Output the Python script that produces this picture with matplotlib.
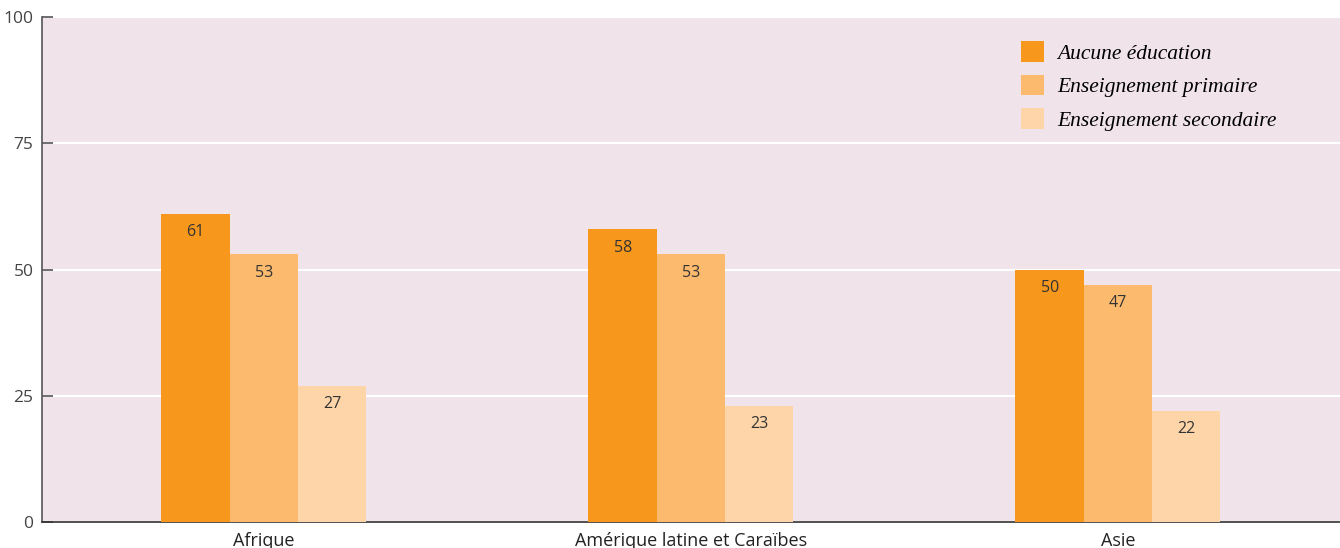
import matplotlib
matplotlib.use("Agg")
import matplotlib.pyplot as plt
import numpy as np

regions = ["Afrique", "Amérique latine et Caraïbes", "Asie"]
series = ["Aucune éducation", "Enseignement primaire", "Enseignement secondaire"]
aucune = [61, 58, 50]
primaire = [53, 53, 47]
secondaire = [27, 23, 22]
colors = ["#F7981D", "#FBBA6E", "#FDD5A8"]

fig = plt.figure(figsize=(13.4, 5.48), dpi=100)
ax = fig.add_axes([0.0313, 0.0474, 0.9687, 0.9216])
ax.set_facecolor("#F0E4EA")

x = np.arange(len(regions))
w = 0.16
for i, (vals, c, name) in enumerate(zip([aucune, primaire, secondaire], colors, series)):
    bars = ax.bar(x + (i - 1) * w, vals, w, color=c, label=name, zorder=3)
    for b, v in zip(bars, vals):
        ax.annotate(str(v), (b.get_x() + b.get_width() / 2, v), xytext=(0, -7.5),
                    textcoords="offset points", ha="center", va="top",
                    fontsize=11.5, color="#333333", family="Open Sans", zorder=4)

ax.set_xlim(-0.52, 2.52)
ax.set_ylim(0, 100)
ax.set_yticks([0, 25, 50, 75, 100])
ax.grid(axis="y", color="white", linewidth=1.5, zorder=1)
ax.set_xticks(x)
ax.set_xticklabels(regions, fontsize=13, family="Open Sans", color="#222222")
ax.tick_params(axis="x", length=0, pad=7)
ax.tick_params(axis="y", direction="in", length=8, width=1.2, color="#555555",
               labelsize=12.5, labelcolor="#444444", pad=6)
for lab in ax.get_yticklabels():
    lab.set_family("Open Sans")

for s in ["top", "right"]:
    ax.spines[s].set_visible(False)
ax.spines["left"].set_color("#555555")
ax.spines["left"].set_linewidth(1.2)
ax.spines["bottom"].set_color("#333333")
ax.spines["bottom"].set_linewidth(1.2)

leg = ax.legend(loc="upper right", bbox_to_anchor=(0.966, 0.99), frameon=False,
                prop={"family": "Liberation Serif", "style": "italic", "size": 15.5},
                handlelength=1.1, handleheight=1.1, handletextpad=0.6, labelspacing=0.5)

fig.savefig("out.png", dpi=100)
